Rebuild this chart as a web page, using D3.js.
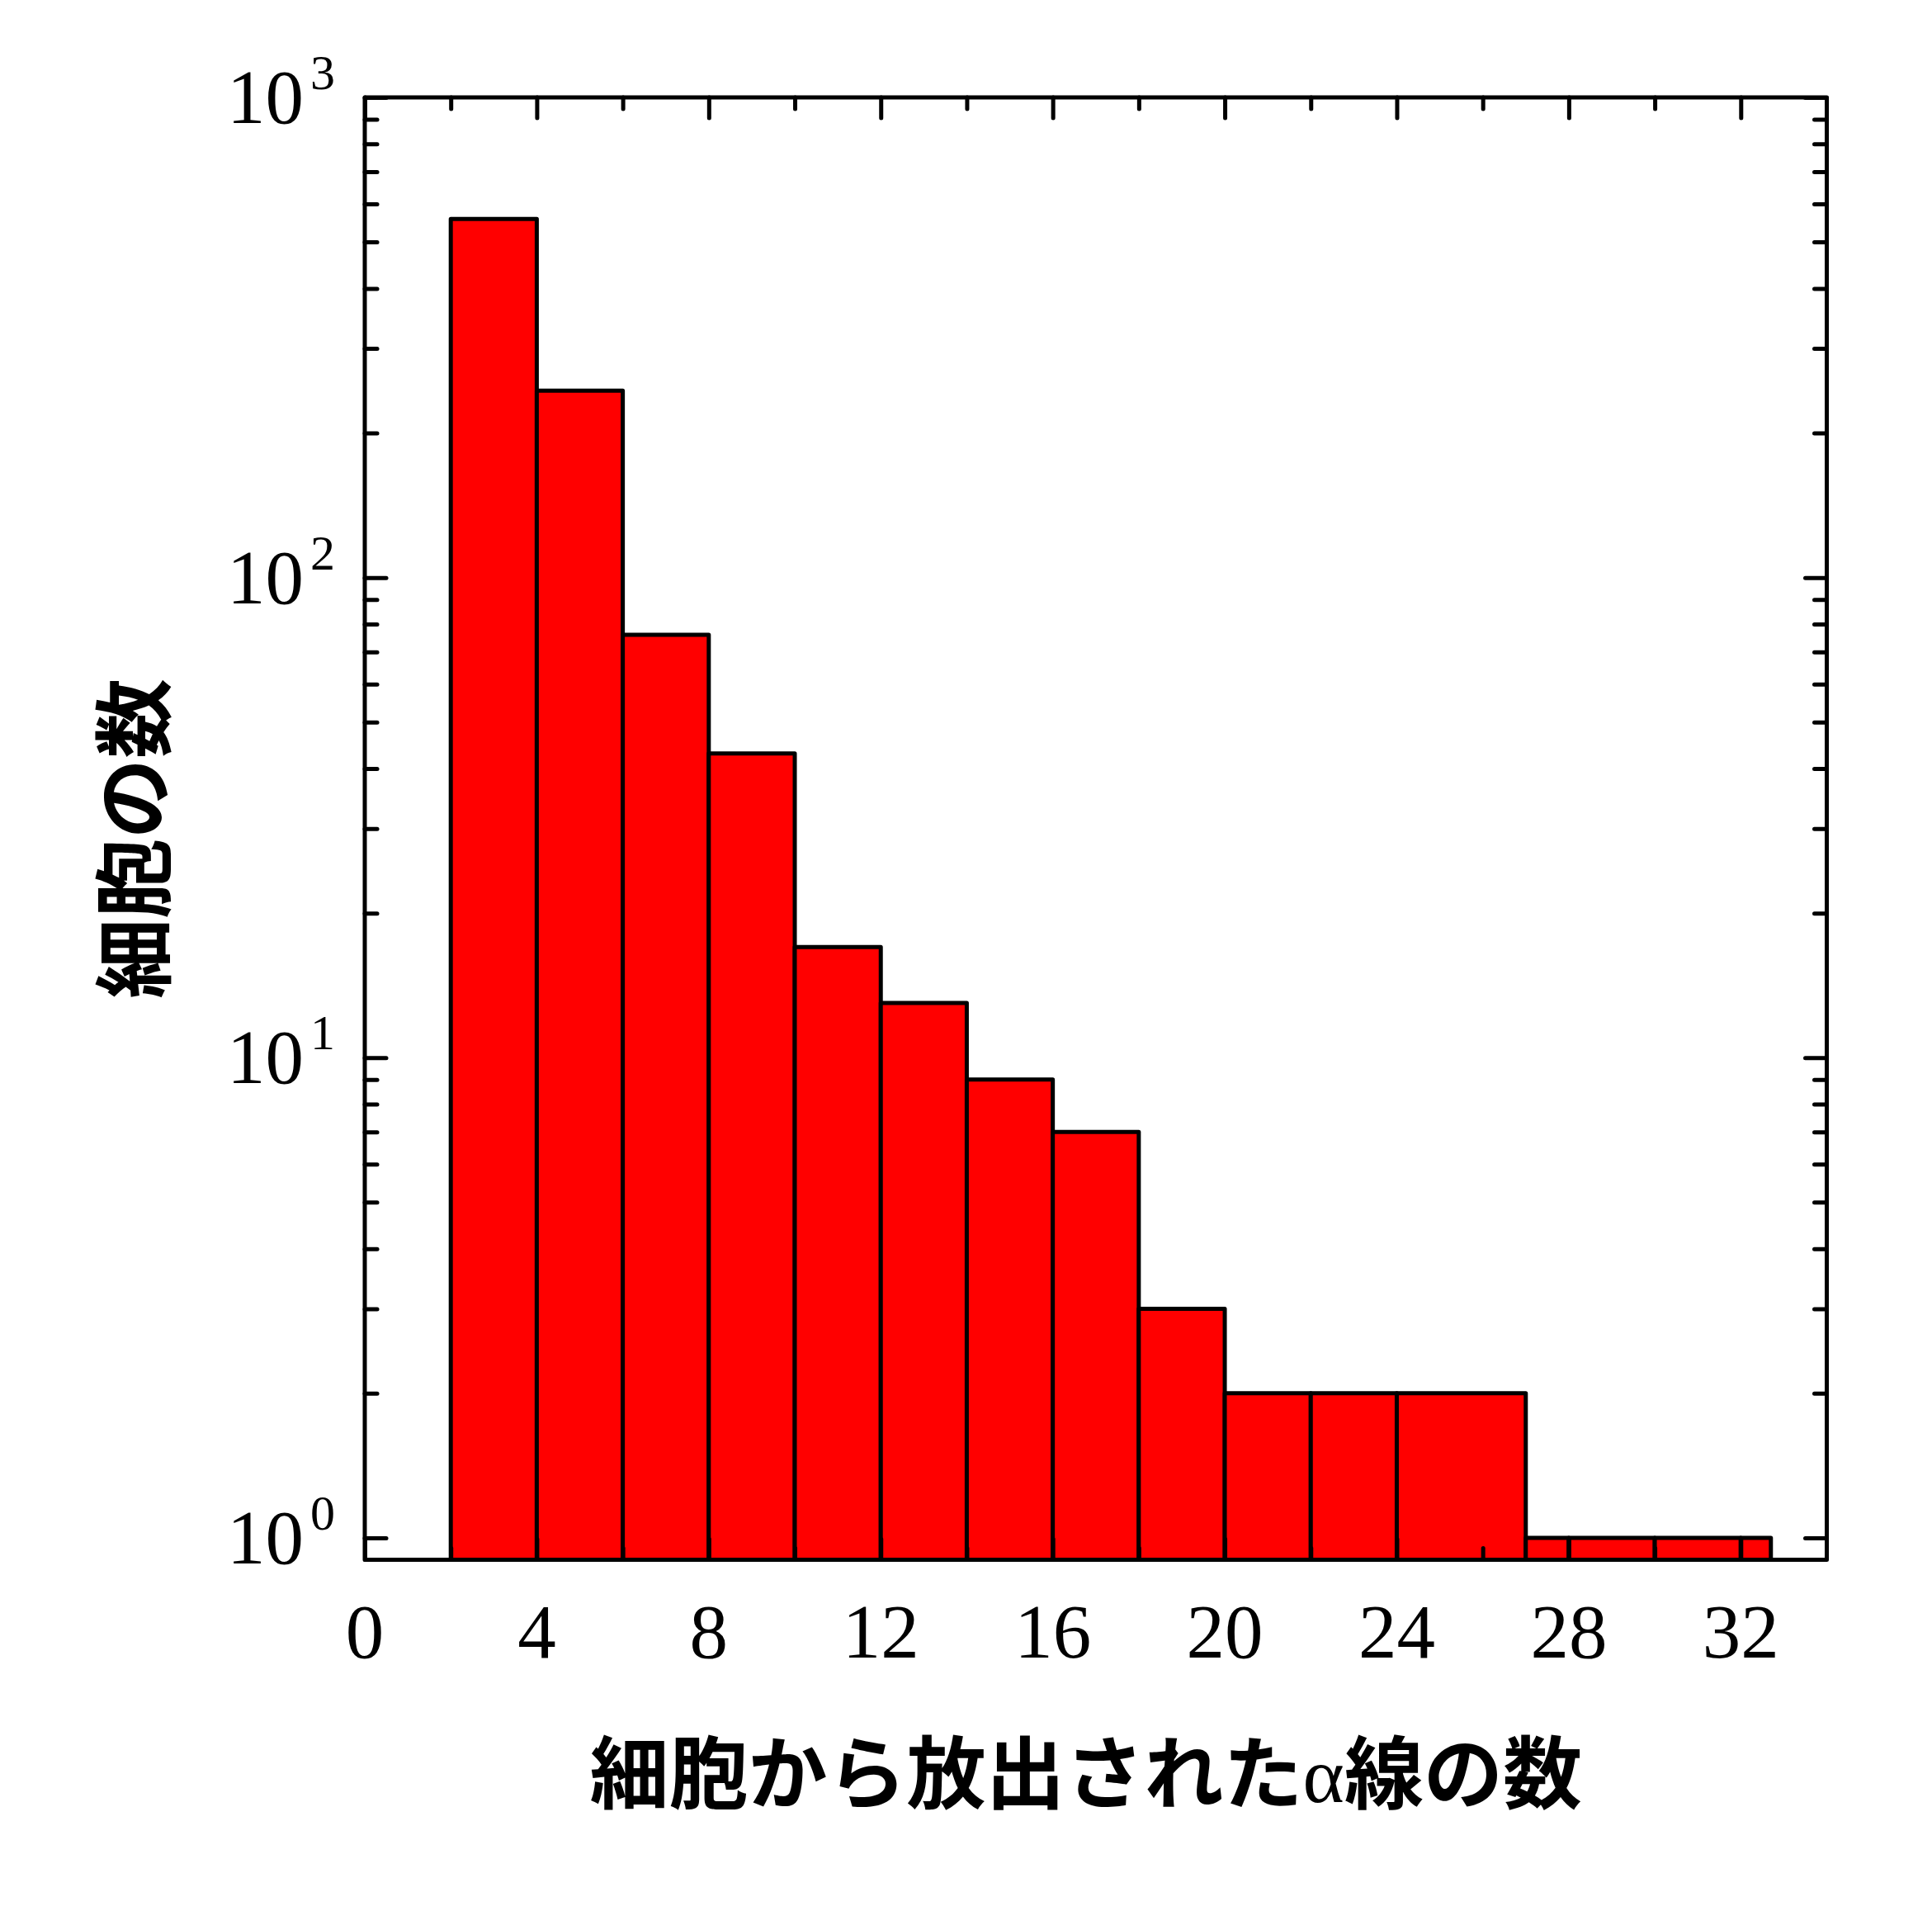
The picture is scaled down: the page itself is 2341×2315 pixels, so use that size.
<!DOCTYPE html>
<html><head><meta charset="utf-8">
<script src="https://cdn.jsdelivr.net/npm/d3@7"></script>
<style>body{margin:0;background:#fff}</style></head>
<body>
<svg id="c" width="2341" height="2315"></svg>
<script>
// ---- data ----
const binStart = [2, 4, 6, 8, 10, 12, 14, 16, 18, 20, 22, 24, 27, 28, 30, 32];
const binEnd   = [4, 6, 8, 10, 12, 14, 16, 18, 20, 22, 24, 27, 28, 30, 32, 32.7];
const counts   = [558, 245, 76, 43, 17, 13, 9, 7, 3, 2, 2, 2, 1, 1, 1, 1];
const xMajorTicks = [0, 4, 8, 12, 16, 20, 24, 28, 32];
const xMinorTicks = [2, 6, 10, 14, 18, 22, 26, 30];
const yMajorTicks = [1, 10, 100, 1000];
const yExponents  = ["0", "1", "2", "3"];
const yMinorTicks = [2,3,4,5,6,7,8,9,20,30,40,50,60,70,80,90,200,300,400,500,600,700,800,900];
const xTitleA = "細胞から放出された";
const xTitleAlpha = "α";
const xTitleB = "線の数";
const yTitle = "細胞の数";

// ---- layout ----
const L = 442, R = 2213.5, T = 118, B = 1889.5;
const x = d3.scaleLinear().domain([0, 34]).range([L, R]);
const y = d3.scaleLog().domain([0.9, 1000]).range([B, T]);
const svg = d3.select("#c");
const SW = 5;

// bars
const bars = binStart.map((s, i) => ({s, e: binEnd[i], c: counts[i]}));
svg.append("g").selectAll("rect").data(bars).join("rect")
  .attr("x", d => x(d.s)).attr("width", d => x(d.e) - x(d.s))
  .attr("y", d => y(d.c)).attr("height", d => B - y(d.c))
  .attr("fill", "#ff0000").attr("stroke", "#000").attr("stroke-width", SW)
  .attr("stroke-linejoin", "round");

// axes (inward ticks)
function styleAxis(g) {
  g.select(".domain").remove();
  g.selectAll(".tick line").attr("stroke", "#000").attr("stroke-width", SW).attr("stroke-linecap", "round");
  g.selectAll(".tick text").remove();
}
const MAJ = 25, MIN = 14;
svg.append("g").attr("transform", `translate(0,${B})`)
  .call(d3.axisBottom(x).tickValues(xMajorTicks).tickSize(-MAJ)).call(styleAxis);
svg.append("g").attr("transform", `translate(0,${B})`)
  .call(d3.axisBottom(x).tickValues(xMinorTicks).tickSize(-MIN)).call(styleAxis);
svg.append("g").attr("transform", `translate(0,${T})`)
  .call(d3.axisTop(x).tickValues(xMajorTicks).tickSize(-MAJ)).call(styleAxis);
svg.append("g").attr("transform", `translate(0,${T})`)
  .call(d3.axisTop(x).tickValues(xMinorTicks).tickSize(-MIN)).call(styleAxis);
svg.append("g").attr("transform", `translate(${L},0)`)
  .call(d3.axisLeft(y).tickValues(yMajorTicks).tickSize(-26)).call(styleAxis);
svg.append("g").attr("transform", `translate(${L},0)`)
  .call(d3.axisLeft(y).tickValues(yMinorTicks).tickSize(-15)).call(styleAxis);
svg.append("g").attr("transform", `translate(${R},0)`)
  .call(d3.axisRight(y).tickValues(yMajorTicks).tickSize(-26)).call(styleAxis);
svg.append("g").attr("transform", `translate(${R},0)`)
  .call(d3.axisRight(y).tickValues(yMinorTicks).tickSize(-15)).call(styleAxis);

// frame
svg.append("rect").attr("x", L).attr("y", T).attr("width", R - L).attr("height", B - T)
  .attr("fill", "none").attr("stroke", "#000").attr("stroke-width", SW).attr("stroke-linejoin", "round");

// x tick labels
svg.append("g").selectAll("text").data(xMajorTicks).join("text")
  .attr("x", d => x(d)).attr("y", 2008)
  .attr("text-anchor", "middle")
  .attr("font-family", "'Liberation Serif','Times New Roman',serif")
  .attr("font-size", 93).text(d => d);

// y tick labels 10^n
const yl = svg.append("g").selectAll("text").data(yMajorTicks).join("text")
  .attr("x", 406).attr("y", d => y(d) + 31)
  .attr("text-anchor", "end")
  .attr("font-family", "'Liberation Serif','Times New Roman',serif")
  .attr("font-size", 93);
yl.append("tspan").text("10");
yl.append("tspan").attr("dy", -41).attr("dx", 8).attr("font-size", 60).text((d, i) => yExponents[i]);

// titles
const xt = svg.append("text").attr("x", (L + R) / 2 - 12).attr("y", 2183)
  .attr("text-anchor", "middle")
  .attr("font-family", "'Noto Sans CJK JP',sans-serif").attr("font-weight", "bold")
  .attr("font-size", 96);
xt.append("tspan").text(xTitleA);
xt.append("tspan").attr("font-family", "'Liberation Serif',serif").attr("font-weight", "normal").text(xTitleAlpha);
xt.append("tspan").text(xTitleB);

svg.append("text").attr("transform", "translate(198,1016) rotate(-90)")
  .attr("text-anchor", "middle")
  .attr("font-family", "'Noto Sans CJK JP',sans-serif").attr("font-weight", "bold")
  .attr("font-size", 97).text(yTitle);
</script>
</body></html>
